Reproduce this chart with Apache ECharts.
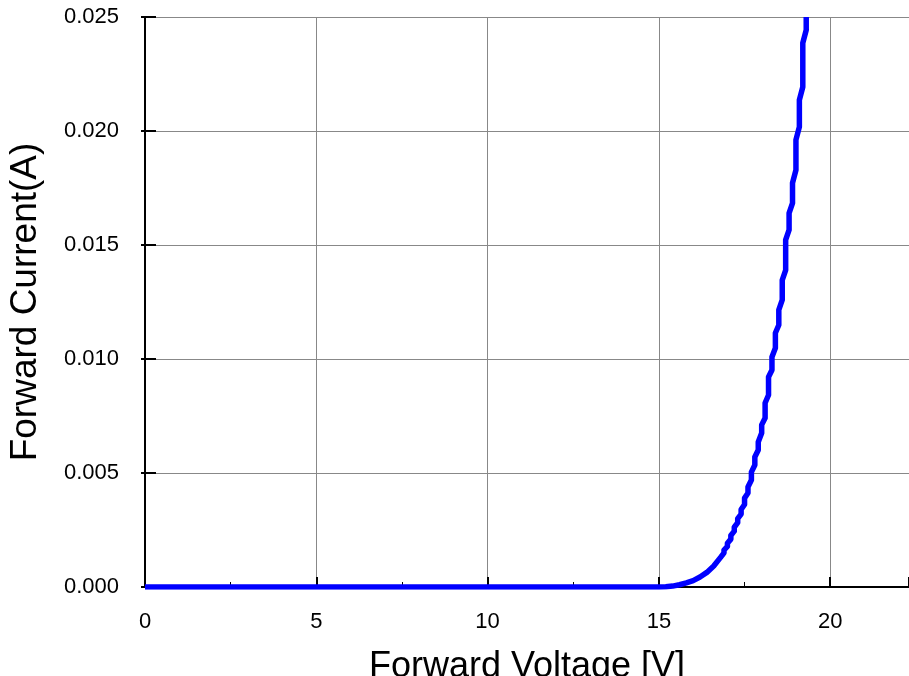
<!DOCTYPE html>
<html>
<head>
<meta charset="utf-8">
<script src="https://cdn.jsdelivr.net/npm/echarts@6/dist/echarts.min.js"></script>
<style>
html,body{margin:0;padding:0;background:#fff;overflow:hidden;}
#chart{width:909px;height:676px;}
</style>
</head>
<body>
<div id="chart"></div>
<script>
// Forward voltage (V) readings
var voltage = [0, 15.0, 15.2, 15.4, 15.6, 15.8, 16.0, 16.2, 16.4, 16.6, 16.8,
  16.9, 16.9, 17.0, 17.0, 17.1, 17.1, 17.2, 17.2, 17.3, 17.3, 17.4, 17.4,
  17.5, 17.5, 17.6, 17.6, 17.7, 17.7, 17.8, 17.8, 17.9, 17.9, 18.0, 18.0,
  18.1, 18.1, 18.2, 18.2, 18.3, 18.3, 18.4, 18.4, 18.5, 18.5, 18.6, 18.6,
  18.7, 18.7, 18.8, 18.8, 18.9, 18.9, 19.0, 19.0, 19.1, 19.1, 19.2, 19.2,
  19.3, 19.3];
// Forward current (A) readings
var current = [0, 0, 0.00001, 0.00004, 0.0001, 0.00018, 0.00028, 0.00044, 0.00064, 0.00092, 0.00130,
  0.00150, 0.00162, 0.00178, 0.00192, 0.00210, 0.00226, 0.00245, 0.00262, 0.00282, 0.00300, 0.00320, 0.00340,
  0.00362, 0.00390, 0.00412, 0.00439, 0.00469, 0.00504, 0.00535, 0.00570, 0.00601, 0.00636, 0.00675, 0.00711,
  0.00741, 0.00807, 0.00842, 0.00921, 0.00952, 0.01009, 0.01048, 0.01114, 0.01149, 0.01215, 0.01259, 0.01346,
  0.01390, 0.01522, 0.01566, 0.01640, 0.01684, 0.01772, 0.01829, 0.01961, 0.02018, 0.02136, 0.02193, 0.02386,
  0.02443, 0.02500];
var xTicks = [0, 5, 10, 15, 20];
var yTicks = [0.000, 0.005, 0.010, 0.015, 0.020, 0.025];

var data = voltage.map(function (v, i) { return [v, current[i]]; });
var font = '"Liberation Sans", Arial, Helvetica, sans-serif';

var chart = echarts.init(document.getElementById('chart'), null, {renderer: 'canvas'});
chart.setOption({
  animation: false,
  backgroundColor: '#fff',
  grid: {left: 145, right: 0, top: 17, bottom: 89, containLabel: false, outerBoundsMode: 'none'},
  xAxis: [{
    type: 'value', min: xTicks[0], max: 22.3, interval: 5,
    name: 'Forward Voltage [V]', nameLocation: 'middle', nameGap: 62,
    nameTextStyle: {fontFamily: font, fontSize: 36, color: '#000'},
    axisLine: {show: true, lineStyle: {color: '#000', width: 2}},
    axisTick: {show: true, inside: true, length: 10, lineStyle: {color: '#000', width: 2}},
    minorTick: {show: true, splitNumber: 2, length: 5, lineStyle: {color: '#000', width: 1}},
    axisLabel: {fontFamily: font, fontSize: 22, color: '#000', margin: 24,
      formatter: function (v) { return xTicks.indexOf(v) >= 0 ? String(v) : ''; }},
    splitLine: {show: true, lineStyle: {color: '#888', width: 1}}
  }, {
    type: 'value', position: 'top', min: xTicks[0], max: 22.3, interval: 5,
    axisLine: {show: true, lineStyle: {color: '#000', width: 2}},
    axisTick: {show: false},
    minorTick: {show: true, splitNumber: 2, length: 3, lineStyle: {color: '#000', width: 1}},
    axisLabel: {show: false}, splitLine: {show: false}
  }],
  yAxis: [{
    type: 'value', min: yTicks[0], max: yTicks[yTicks.length - 1], interval: 0.005,
    name: 'Forward Current(A)', nameLocation: 'middle', nameGap: 101,
    nameTextStyle: {fontFamily: font, fontSize: 37, color: '#000'},
    axisLine: {show: true, lineStyle: {color: '#000', width: 2}},
    axisTick: {show: true, inside: true, length: 11, lineStyle: {color: '#000', width: 2}},
    axisLabel: {fontFamily: font, fontSize: 22, color: '#000', margin: 26,
      formatter: function (v) { return v.toFixed(3); }},
    splitLine: {show: true, lineStyle: {color: '#888', width: 1}}
  }, {
    type: 'value', position: 'right', min: yTicks[0], max: yTicks[yTicks.length - 1], interval: 0.005,
    axisLine: {show: false},
    axisTick: {show: true, inside: true, length: 4, lineStyle: {color: '#000', width: 2}},
    axisLabel: {show: false}, splitLine: {show: false}
  }],
  series: [{
    type: 'line', xAxisIndex: 0, yAxisIndex: 0,
    data: data, showSymbol: false, symbol: 'none',
    lineStyle: {color: '#0000ff', width: 5.5, join: 'round'},
    clip: true, z: 5
  }]
});
</script>
</body>
</html>
